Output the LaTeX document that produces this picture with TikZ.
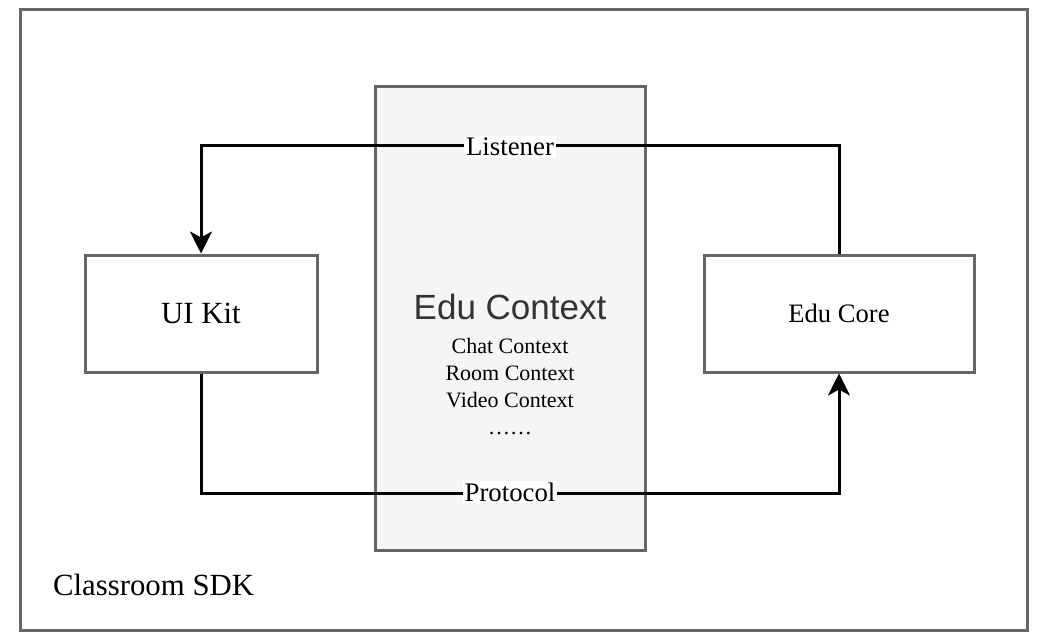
\documentclass[tikz,border=0pt]{standalone}
\usepackage{fontspec}
\setmainfont{Liberation Serif}
\setsansfont{Liberation Sans}
\usetikzlibrary{positioning, arrows.meta, calc}

\definecolor{boxgray}{HTML}{666666}
\definecolor{ctxfill}{HTML}{F5F5F5}
\definecolor{ctxtext}{HTML}{333333}

\begin{document}
\begin{tikzpicture}[
    x=0.5pt, y=-0.5pt,
    box/.style={rectangle, draw=boxgray, line width=1.5pt, inner sep=0pt},
    arrow/.style={-{Stealth[length=11pt, width=11pt, inset=3pt]}, line width=1.5pt},
    lbl/.style={fill=white, inner sep=1pt, font=\fontsize{13.4}{16}\selectfont}
]
\useasboundingbox (0,0) rectangle (1052,642);

% Frame
\node[box, minimum width=503.5pt, minimum height=310pt] (sdk) at (523.5, 320) {};
\node[anchor=west, font=\fontsize{15.4}{18}\selectfont] (sdklabel) at (46, 585) {Classroom SDK};

% Context layer
\node[box, fill=ctxfill, minimum width=135pt, minimum height=231.5pt] (ctx) at (510, 318.5) {};
\node[font=\sffamily\fontsize{17.5}{20}\selectfont, text=ctxtext] (ctxtitle) at (510, 307) {Edu Context};
\node[align=center, font=\fontsize{11}{13.5}\selectfont, below=2pt of ctxtitle] (ctxlist)
    {Chat Context\\Room Context\\Video Context\\\ldots\ldots};

% Modules
\node[box, minimum width=116pt, minimum height=58.5pt, font=\fontsize{15.4}{18}\selectfont] (kit) at (201, 313.5) {UI Kit};
\node[box, minimum width=135pt, minimum height=58.5pt, font=\fontsize{13.3}{16}\selectfont] (core) at (839, 313.5) {Edu Core};

% Connectors
\draw[arrow] (core.north) -- ++(0,-108) -| (kit.north);
\draw[arrow] (kit.south) -- ++(0,120) -| (core.south);

% Labels
\node[lbl] (listener) at (ctx.center |- 0,147) {Listener};
\node[lbl] (protocol) at (ctx.center |- 0,492) {Protocol};

\end{tikzpicture}
\end{document}
